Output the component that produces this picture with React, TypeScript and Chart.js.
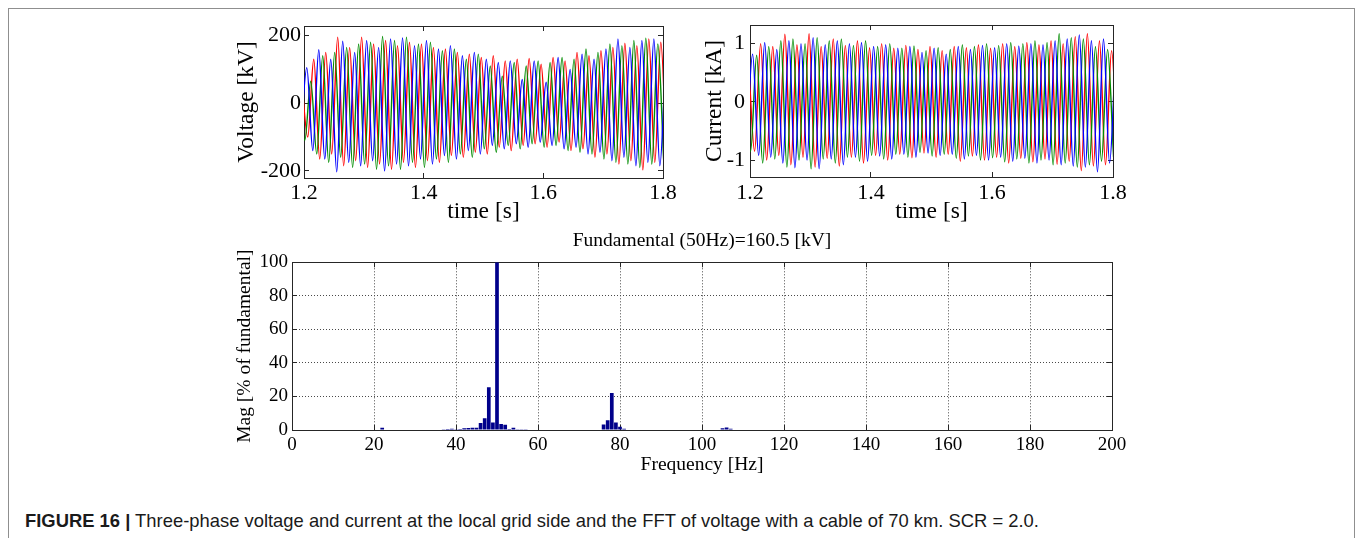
import React, { useEffect, useRef } from "react";
import { Chart, registerables } from "chart.js";

Chart.register(...registerables);

// ------------------------------------------------------------------ data
const timeTicks = [1.2, 1.4, 1.6, 1.8];
const voltageTicks = [-200, 0, 200];
const currentTicks = [-1, 0, 1];
const freqTicks = [0, 20, 40, 60, 80, 100, 120, 140, 160, 180, 200];
const magTicks = [0, 20, 40, 60, 80, 100];

// successive peaks of the same sign are one 50 Hz cycle apart
const cyclePeriod = 0.02;

// Voltage [kV] – positive and negative peaks of each phase
const vBluePosStart = 1.2047;
const vBluePos = [105, 158, 130, 183, 150, 185, 165, 190, 193, 170, 185, 160, 170, 140, 150, 130, 120, 125, 70, 125, 62, 135, 100, 145, 130, 160, 190, 165, 185, 190, 150];
const vBlueNegStart = 1.1947;
const vBlueNeg = [-90, -140, -165, -203, -175, -185, -170, -200, -180, -185, -165, -180, -155, -165, -140, -150, -125, -135, -120, -130, -115, -125, -135, -130, -150, -145, -170, -160, -185, -175, -185];

const vRedPosStart = 1.1963;
const vRedPos = [60, 130, 150, 195, 165, 195, 175, 185, 170, 180, 175, 165, 160, 150, 145, 135, 140, 125, 130, 132, 115, 135, 125, 150, 140, 155, 165, 177, 170, 190, 180];
const vRedNegStart = 1.2063;
const vRedNeg = [-100, -165, -150, -185, -170, -190, -180, -195, -175, -190, -170, -175, -155, -160, -145, -150, -130, -140, -125, -120, -130, -115, -140, -135, -160, -150, -180, -170, -197, -175, -185];

const vGreenPosStart = 1.1913;
const vGreenPos = [90, 65, 140, 150, 165, 175, 180, 197, 185, 195, 175, 180, 155, 160, 130, 145, 110, 80, 120, 110, 125, 120, 135, 130, 160, 150, 175, 170, 185, 192, 175];
const vGreenNegStart = 1.2013;
const vGreenNeg = [-110, -150, -175, -160, -190, -180, -195, -185, -195, -175, -190, -165, -175, -150, -160, -135, -145, -125, -135, -120, -130, -125, -140, -145, -150, -165, -175, -180, -190, -180, -175];

// Current [kA]
const iRedPosStart = 1.1976;
const iRedPos = [0.7, 1.0, 0.95, 1.16, 0.98, 1.17, 0.95, 1.08, 0.97, 1.05, 0.93, 1.0, 0.92, 0.97, 0.9, 0.95, 0.88, 0.95, 0.93, 0.98, 0.92, 1.0, 0.95, 1.02, 0.98, 1.05, 1.0, 1.12, 1.17, 1.05, 0.88];
const iRedNegStart = 1.2076;
const iRedNeg = [-0.85, -1.0, -0.92, -1.08, -0.95, -1.12, -0.97, -1.1, -0.95, -1.05, -0.92, -1.0, -0.9, -0.96, -0.88, -0.95, -0.9, -1.02, -0.93, -1.0, -0.95, -1.05, -0.97, -1.03, -0.98, -1.07, -1.02, -1.18, -1.1, -1.08, -0.95];

const iBluePosStart = 1.2043;
const iBluePos = [0.82, 1.02, 0.9, 1.05, 1.0, 1.1, 0.98, 1.05, 1.0, 1.02, 0.95, 0.98, 0.92, 0.95, 0.85, 0.92, 0.82, 0.95, 0.9, 0.97, 0.93, 1.0, 0.96, 1.0, 0.98, 1.05, 1.08, 1.15, 1.05, 1.08, 0.85];
const iBlueNegStart = 1.1943;
const iBlueNeg = [-0.75, -0.92, -0.95, -1.05, -1.13, -1.0, -1.15, -0.98, -1.08, -0.95, -1.02, -0.93, -0.98, -0.9, -0.95, -0.88, -0.92, -0.9, -0.98, -0.92, -1.0, -0.95, -1.02, -0.97, -1.05, -1.0, -1.08, -1.1, -1.12, -1.2, -1.05];

const iGreenPosStart = 1.191;
const iGreenPos = [0.6, 0.8, 0.95, 1.05, 1.08, 1.0, 1.1, 1.05, 1.08, 0.97, 1.05, 0.95, 1.0, 0.92, 0.96, 0.88, 0.93, 0.9, 0.98, 0.95, 1.0, 0.97, 1.02, 1.0, 1.05, 1.02, 1.17, 1.1, 1.08, 0.95, 0.9];
const iGreenNegStart = 1.201;
const iGreenNeg = [-0.85, -1.05, -0.98, -1.12, -1.0, -1.15, -0.98, -1.05, -0.95, -1.02, -0.92, -0.98, -0.9, -0.95, -0.87, -0.93, -0.9, -0.97, -0.93, -1.0, -0.96, -1.03, -0.98, -1.05, -1.0, -1.08, -1.05, -1.12, -1.08, -1.02, -0.95];

// FFT of voltage
const fftFreqs = [22, 37, 38, 39, 40, 41, 42, 43, 44, 45, 46, 47, 48, 49, 50, 51, 52, 53, 54, 55, 56, 57, 76, 77, 78, 79, 80, 81, 105, 106, 107];
const fftMags = [1.3, 0.4, 0.6, 0.8, 0.5, 0.6, 1.0, 1.2, 1.3, 1.4, 4.2, 7.0, 25.5, 4.5, 100, 3.6, 3.2, 0.6, 1.3, 0.5, 0.5, 0.4, 3.3, 5.8, 22, 4.5, 2.0, 0.8, 1.0, 1.5, 0.7];

const fftTitle = "Fundamental (50Hz)=160.5 [kV]";
const captionBold = "FIGURE 16 |";
const captionText =
  " Three-phase voltage and current at the local grid side and the FFT of voltage with a cable of 70 km. SCR = 2.0.";

// ------------------------------------------------------------------ styling
const SERIF = "'Liberation Serif', 'Times New Roman', Times, serif";
const SANS = "'Liberation Sans', Arial, Helvetica, sans-serif";
const BLUE = "rgb(0,0,255)";
const RED = "rgb(255,0,0)";
const GREEN = "rgb(0,140,0)";
const AXIS = "#262626";

function peaksToPoints(posStart: number, pos: number[], negStart: number, neg: number[]) {
  const pts: { x: number; y: number }[] = [];
  pos.forEach((v, i) => pts.push({ x: posStart + i * cyclePeriod, y: v }));
  neg.forEach((v, i) => pts.push({ x: negStart + i * cyclePeriod, y: v }));
  pts.sort((a, b) => a.x - b.x);
  return pts;
}

type BoxCfg = {
  xMin: number; xMax: number; xTicks: number[];
  yMin: number; yMax: number; yTicks: number[];
  xTitle: string; yTitle: string;
  fontSize: number; titleSize: number;
  xLabelPad: number; yLabelPad: number; yTitlePad: number;
  yAxisWidth: number; xAxisHeight: number; rightAxisWidth: number;
  grid: boolean;
  xFmt: (v: number) => string;
};

function buildScales(c: BoxCfg) {
  const setTicks = (vals: number[]) => (scale: any) => {
    scale.ticks = vals.map((v) => ({ value: v }));
  };
  const gridOpts = (onArea: boolean) => ({
    display: true,
    drawOnChartArea: onArea,
    drawTicks: true,
    tickLength: -5,
    tickWidth: 1,
    tickColor: AXIS,
    color: onArea ? "#4a4a4a" : "rgba(0,0,0,0)",
    lineWidth: 1,
    offset: false,
  });
  const borderOpts = (onArea: boolean) => ({
    display: true,
    color: AXIS,
    width: 1,
    dash: onArea ? [1, 2] : [],
  });
  const font = { family: SERIF, size: c.fontSize };
  const tfont = { family: SERIF, size: c.titleSize };
  return {
    x: {
      type: "linear",
      position: "bottom",
      min: c.xMin,
      max: c.xMax,
      offset: false,
      afterBuildTicks: setTicks(c.xTicks),
      afterFit: (s: any) => { s.height = c.xAxisHeight; },
      grid: gridOpts(c.grid),
      border: borderOpts(c.grid),
      ticks: { font, color: "#000", padding: c.xLabelPad, maxRotation: 0, autoSkip: false, callback: (v: any) => c.xFmt(Number(v)) },
      title: { display: true, text: c.xTitle, font: tfont, color: "#000", padding: 0 },
    },
    x2: {
      type: "linear",
      position: "top",
      min: c.xMin,
      max: c.xMax,
      offset: false,
      afterBuildTicks: setTicks(c.xTicks),
      afterFit: (s: any) => { s.height = 0; },
      grid: gridOpts(false),
      border: borderOpts(false),
      ticks: { display: false },
    },
    y: {
      type: "linear",
      position: "left",
      min: c.yMin,
      max: c.yMax,
      afterBuildTicks: setTicks(c.yTicks),
      afterFit: (s: any) => { s.width = c.yAxisWidth; },
      grid: gridOpts(c.grid),
      border: borderOpts(c.grid),
      ticks: { font, color: "#000", padding: c.yLabelPad, autoSkip: false, callback: (v: any) => String(v) },
      title: { display: true, text: c.yTitle, font: tfont, color: "#000", padding: { top: c.yTitlePad, bottom: 0 } },
    },
    y2: {
      type: "linear",
      position: "right",
      min: c.yMin,
      max: c.yMax,
      afterBuildTicks: setTicks(c.yTicks),
      afterFit: (s: any) => { s.width = c.rightAxisWidth; },
      grid: gridOpts(false),
      border: borderOpts(false),
      ticks: { display: false },
    },
  };
}

function waveDataset(label: string, color: string, pts: { x: number; y: number }[]) {
  return {
    label,
    data: pts,
    borderColor: color,
    backgroundColor: color,
    borderWidth: 1.4,
    pointRadius: 0,
    fill: false,
    tension: 0.4,
    cubicInterpolationMode: "monotone",
  };
}

const basePlugins = { legend: { display: false }, tooltip: { enabled: false } };

function voltageConfig(): any {
  return {
    type: "line",
    data: {
      datasets: [
        waveDataset("Va", BLUE, peaksToPoints(vBluePosStart, vBluePos, vBlueNegStart, vBlueNeg)),
        waveDataset("Vc", GREEN, peaksToPoints(vGreenPosStart, vGreenPos, vGreenNegStart, vGreenNeg)),
        waveDataset("Vb", RED, peaksToPoints(vRedPosStart, vRedPos, vRedNegStart, vRedNeg)),
      ],
    },
    options: {
      responsive: false,
      animation: false,
      devicePixelRatio: 1,
      layout: { padding: { top: 22, right: 24, bottom: 0, left: 0 } },
      plugins: basePlugins,
      scales: buildScales({
        xMin: 1.2, xMax: 1.8, xTicks: timeTicks,
        yMin: -221, yMax: 228, yTicks: voltageTicks,
        xTitle: "time [s]", yTitle: "Voltage [kV]",
        fontSize: 22, titleSize: 23.5,
        xLabelPad: 6.8, yLabelPad: 8, yTitlePad: 6.9,
        yAxisWidth: 78, xAxisHeight: 48, rightAxisWidth: 0,
        grid: false,
        xFmt: (v) => v.toFixed(1),
      }),
    },
  };
}

function currentConfig(): any {
  return {
    type: "line",
    data: {
      datasets: [
        waveDataset("Ia", BLUE, peaksToPoints(iBluePosStart, iBluePos, iBlueNegStart, iBlueNeg)),
        waveDataset("Ic", GREEN, peaksToPoints(iGreenPosStart, iGreenPos, iGreenNegStart, iGreenNeg)),
        waveDataset("Ib", RED, peaksToPoints(iRedPosStart, iRedPos, iRedNegStart, iRedNeg)),
      ],
    },
    options: {
      responsive: false,
      animation: false,
      devicePixelRatio: 1,
      layout: { padding: { top: 24, right: 24, bottom: 0, left: 0 } },
      plugins: basePlugins,
      scales: buildScales({
        xMin: 1.2, xMax: 1.8, xTicks: timeTicks,
        yMin: -1.29, yMax: 1.32, yTicks: currentTicks,
        xTitle: "time [s]", yTitle: "Current [kA]",
        fontSize: 22, titleSize: 23.5,
        xLabelPad: 7.8, yLabelPad: 10, yTitlePad: 4.9,
        yAxisWidth: 54, xAxisHeight: 49, rightAxisWidth: 0,
        grid: false,
        xFmt: (v) => v.toFixed(1),
      }),
    },
  };
}

function fftConfig(): any {
  return {
    type: "bar",
    data: {
      datasets: [
        {
          label: "FFT",
          data: fftFreqs.map((f, i) => ({ x: f, y: fftMags[i] })),
          backgroundColor: "#00008b",
          borderWidth: 0,
          barPercentage: 1,
          categoryPercentage: 0.9,
        },
      ],
    },
    options: {
      responsive: false,
      animation: false,
      devicePixelRatio: 1,
      layout: { padding: { top: 0, right: 0, bottom: 0, left: 0 } },
      plugins: {
        ...basePlugins,
        title: {
          display: true,
          text: fftTitle,
          font: { family: SERIF, size: 19.5, weight: "normal" },
          color: "#000",
          padding: { top: 4.3, bottom: 9.6 },
        },
      },
      scales: buildScales({
        xMin: 0, xMax: 200, xTicks: freqTicks,
        yMin: 0, yMax: 100, yTicks: magTicks,
        xTitle: "Frequency [Hz]", yTitle: "Mag [% of fundamental]",
        fontSize: 19, titleSize: 19.5,
        xLabelPad: 8.6, yLabelPad: 9, yTitlePad: 7.3,
        yAxisWidth: 66, xAxisHeight: 47, rightAxisWidth: 66,
        grid: true,
        xFmt: (v) => String(v),
      }),
    },
  };
}

function ChartCanvas(props: { left: number; top: number; width: number; height: number; make: () => any }) {
  const ref = useRef<HTMLCanvasElement | null>(null);
  useEffect(() => {
    if (!ref.current) return;
    const chart = new Chart(ref.current, props.make());
    return () => chart.destroy();
  }, []);
  return (
    <canvas
      ref={ref}
      width={props.width}
      height={props.height}
      style={{ position: "absolute", left: props.left, top: props.top, width: props.width, height: props.height }}
    />
  );
}

export default function App() {
  return (
    <div
      style={{
        position: "fixed",
        left: 0,
        top: 0,
        width: 1355,
        height: 538,
        overflow: "hidden",
        background: "#fff",
      }}
    >
      <div
        style={{
          position: "absolute",
          left: 8,
          top: 8,
          width: 1347,
          height: 600,
          boxSizing: "border-box",
          border: "1px solid #8f8f8f",
        }}
      />
      <ChartCanvas left={226} top={4} width={461} height={222} make={voltageConfig} />
      <ChartCanvas left={696} top={1} width={441} height={225} make={currentConfig} />
      <ChartCanvas left={226} top={225} width={952} height={252} make={fftConfig} />
      <div
        style={{
          position: "absolute",
          left: 25,
          top: 510,
          fontFamily: SANS,
          fontSize: 18.4,
          lineHeight: "22px",
          color: "#1a1a1a",
          whiteSpace: "nowrap",
        }}
      >
        <b>{captionBold}</b>
        {captionText}
      </div>
    </div>
  );
}
